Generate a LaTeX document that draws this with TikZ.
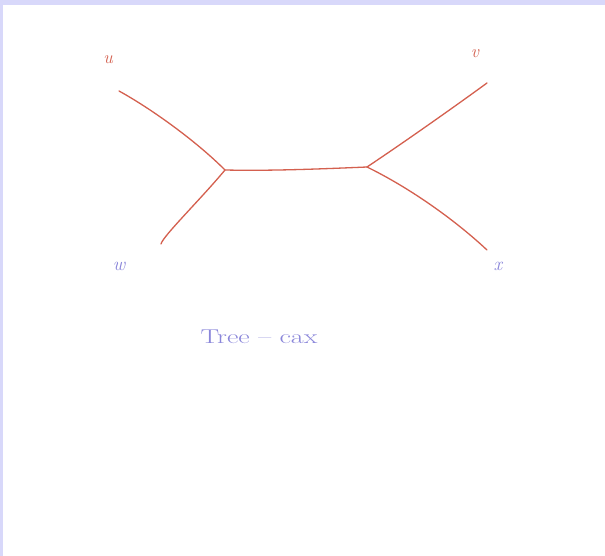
\documentclass[tikz,border=0pt]{standalone}
\begin{document}
\begin{tikzpicture}[x=1pt,y=-1pt,
  edge/.style={draw=treered,line width=1.3pt,line cap=round},
  redlbl/.style={text=treered,font=\fontsize{18}{20}\selectfont\itshape,inner sep=0pt},
  bluelbl/.style={text=inkblue,font=\fontsize{19}{21}\selectfont\itshape,inner sep=0pt}]
\definecolor{treered}{HTML}{D4604F}
\definecolor{inkblue}{HTML}{8A86DA}
\definecolor{frame}{HTML}{D8D8FA}
\useasboundingbox (0,0) rectangle (605,556);
\fill[frame] (0,0) rectangle (605,556);
\fill[white] (3,5) rectangle (605,556);
% leaves and internal vertices
\coordinate (u) at (119,91);
\coordinate (v) at (487,83);
\coordinate (w) at (161,244);
\coordinate (x) at (487,250);
\coordinate (a) at (225,170);
\coordinate (b) at (367,167);
% labels
\node[redlbl] (lu) at (108,60) {u};
\node[redlbl] (lv) at (475,54) {v};
\node[bluelbl] (lw) at (119,266) {w};
\node[bluelbl] (lx) at (498,266) {x};
\node[text=inkblue,font=\fontsize{20}{24}\selectfont,inner sep=0pt,xscale=1.4] (cap) at (259,337) {Tree -- cax};
% edges
\draw[edge] (u) .. controls (150,108) and (195,140) .. (a);
\draw[edge] (w) .. controls (163,236) and (200,200) .. (a);
\draw[edge] (a) .. controls (270,171) and (320,169) .. (b);
\draw[edge] (b) .. controls (400,145) and (450,110) .. (v);
\draw[edge] (b) .. controls (410,188) and (455,220) .. (x);
\end{tikzpicture}
\end{document}
